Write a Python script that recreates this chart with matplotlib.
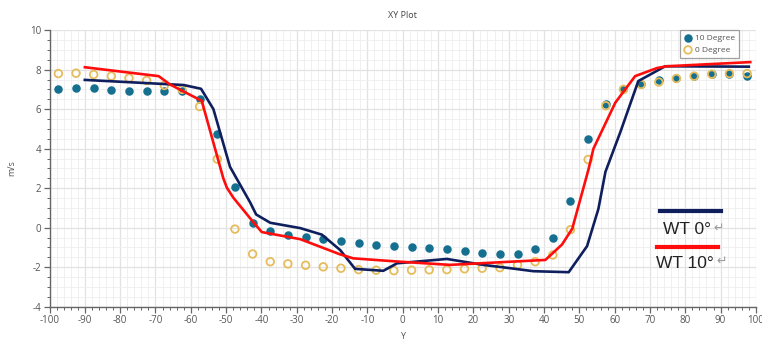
import numpy as np
import matplotlib
matplotlib.use("Agg")
import matplotlib.pyplot as plt
from matplotlib.lines import Line2D
from matplotlib.ticker import MultipleLocator

# sample positions for the two point series
y_pos = np.arange(-97.5, 100, 5)

deg10 = [7.03, 7.08, 7.05, 6.98, 6.90, 6.90, 6.90, 6.90, 6.50, 4.75,
         2.07, 0.25, -0.18, -0.35, -0.48, -0.58, -0.67, -0.77, -0.85, -0.92,
         -0.97, -1.02, -1.10, -1.18, -1.30, -1.35, -1.35, -1.10, -0.50, 1.33,
         4.48, 6.28, 7.03, 7.25, 7.45, 7.60, 7.70, 7.77, 7.78, 7.67]

deg0 = [7.80, 7.82, 7.75, 7.67, 7.57, 7.45, 7.20, 7.00, 6.13, 3.47,
        -0.07, -1.33, -1.72, -1.83, -1.90, -1.98, -2.05, -2.12, -2.15, -2.17,
        -2.15, -2.13, -2.12, -2.08, -2.05, -2.02, -1.88, -1.72, -1.38, -0.10,
        3.45, 6.17, 7.00, 7.25, 7.37, 7.55, 7.67, 7.77, 7.80, 7.80]

# wind tunnel curves
wt0_x = [-90, -62, -57.1, -53.6, -48.9, -43.2, -41.5, -37.5, -29, -22.9,
         -17.7, -13.5, -5.5, -1.6, 12.5, 22.8, 30.5, 37, 47, 52.2,
         55.4, 57.4, 61.6, 66.7, 74.3, 98]
wt0_y = [7.48, 7.22, 7.03, 6.0, 3.08, 1.28, 0.67, 0.25, -0.02, -0.35,
         -1.13, -2.08, -2.18, -1.8, -1.58, -1.88, -2.05, -2.2, -2.25, -0.93,
         0.95, 2.83, 4.83, 7.42, 8.17, 8.15]

wt10_x = [-90, -69.1, -65.9, -56.9, -50.8, -49.8, -48, -42.3, -39.9, -29,
          -17.7, -14, -0.7, 13.4, 30.5, 40.4, 45.1, 48, 52.6, 54,
          60.2, 65.8, 72, 74.8, 98.4]
wt10_y = [8.12, 7.67, 7.25, 6.42, 2.5, 2.03, 1.53, 0.28, -0.22, -0.58,
          -1.35, -1.55, -1.72, -1.88, -1.72, -1.63, -0.85, -0.05, 2.95, 4.0,
          6.33, 7.67, 8.08, 8.17, 8.38]

plt.rcParams['font.family'] = ['Open Sans', 'DejaVu Sans']
plt.rcParams['axes.unicode_minus'] = False

fig = plt.figure(figsize=(7.62, 3.42), dpi=100)
ax = fig.add_axes([0.065, 0.103, 0.927, 0.809])

ax.scatter(y_pos, deg10, s=26, color='#156f8f', zorder=3, label='10 Degree')
ax.scatter(y_pos, deg0, s=30, facecolors='none', edgecolors='#e6bd5c',
           linewidths=1.3, zorder=4, label='0 Degree')

ax.plot(wt0_x, wt0_y, color='#0f1f5e', lw=1.9, zorder=5)
ax.plot(wt10_x, wt10_y, color='#ff0d0d', lw=1.9, zorder=5)

ax.set_xlim(-100, 100)
ax.set_ylim(-4, 10)
ax.xaxis.set_major_locator(MultipleLocator(10))
ax.xaxis.set_minor_locator(MultipleLocator(2))
ax.yaxis.set_major_locator(MultipleLocator(2))
ax.yaxis.set_minor_locator(MultipleLocator(0.5))

ax.grid(which='major', color='#e2e2e2', lw=0.9)
ax.grid(which='minor', color='#eeeeee', lw=0.6)
ax.set_axisbelow(True)

for s in ['top', 'right']:
    ax.spines[s].set_visible(False)
for s in ['left', 'bottom']:
    ax.spines[s].set_color('#666666')
    ax.spines[s].set_linewidth(1.0)

ax.tick_params(which='major', length=4, width=0.9, color='#666666',
               labelsize=7, labelcolor='#555555', pad=2)
ax.tick_params(which='minor', length=2.5, width=0.7, color='#666666')

ax.set_title('XY Plot', fontsize=6.5, color='#444444', pad=9)
ax.set_xlabel('Y', fontsize=6.5, color='#555555', labelpad=4)
ax.set_ylabel('m/s', fontsize=6.5, color='#555555', labelpad=10)

leg = ax.legend(loc='upper right', bbox_to_anchor=(0.976, 1.0),
                borderaxespad=0, fontsize=6, frameon=True, fancybox=False,
                handletextpad=0.3, borderpad=0.5, labelspacing=0.5,
                handlelength=1.0)
leg.get_frame().set_edgecolor('#888888')
leg.get_frame().set_linewidth(0.9)
for t in leg.get_texts():
    t.set_color('#555555')

# pasted line key for the wind tunnel curves
W, H = 762, 342
fig.add_artist(Line2D([660 / W, 721 / W], [1 - 211 / H, 1 - 211 / H],
                      color='#0f1f5e', lw=3.0))
fig.add_artist(Line2D([657 / W, 718 / W], [1 - 247 / H, 1 - 247 / H],
                      color='#ff0d0d', lw=3.0))
fig.text(663 / W, 1 - 230 / H, 'WT 0°', fontsize=12.5, color='#222222',
         family='Liberation Sans', va='center')
fig.text(713 / W, 1 - 228 / H, '↵', fontsize=9, color='#999999', va='center')
fig.text(656 / W, 1 - 263 / H, 'WT 10°', fontsize=12.5, color='#222222',
         family='Liberation Sans', va='center')
fig.text(716 / W, 1 - 261 / H, '↵', fontsize=9, color='#999999', va='center')

fig.savefig('out.png', dpi=100)
